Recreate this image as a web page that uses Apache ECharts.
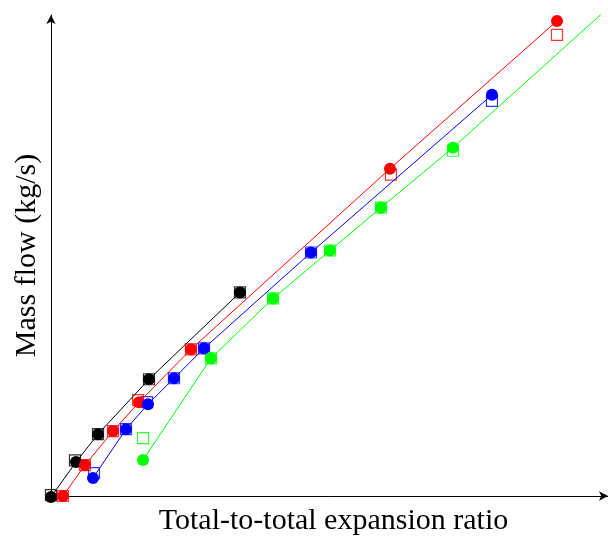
<!DOCTYPE html>
<html>
<head>
<meta charset="utf-8">
<script src="https://cdn.jsdelivr.net/npm/echarts@6/dist/echarts.min.js"></script>
<style>html,body{margin:0;padding:0;background:#fff;}#c{width:608px;height:541px;}</style>
</head>
<body>
<div id="c"></div>
<script>
// Values in normalized chart units (no tick labels in the reference)
var blackLine = [[0,-0.2],[4.49,7.05],[8.44,12.86],[17.59,24.27],[33.93,42.32]];
var blackSq   = [[0,0.2],[4.3,7.4],[8.44,12.86],[17.59,24.27],[33.93,42.32]];
var redLine   = [[2.15,0],[6.10,6.43],[11.13,13.49],[15.80,19.50],[25.13,30.50],[60.86,68.05],[90.84,98.76]];
var redSq     = [[2.15,0],[6.10,6.43],[11.13,13.49],[15.62,19.92],[25.13,30.50],[61.04,66.80],[90.84,95.85]];
var blueLine  = [[7.54,3.73],[13.46,13.90],[17.41,19.09],[22.08,24.48],[27.47,30.71],[46.68,50.62],[79.17,83.40]];
var blueSq    = [[7.72,4.77],[13.46,13.90],[17.24,19.50],[22.08,24.48],[27.47,30.71],[46.68,50.62],[79.17,82.16]];
var greenLine = [[16.52,7.47],[28.73,28.63],[39.86,41.08],[50.09,51.04],[59.25,59.96],[72.17,72.41],[103.4,104.98]];
var greenSq   = [[16.52,12.03],[28.73,28.63],[39.86,41.08],[50.09,51.04],[59.25,59.96],[72.17,71.78]];

var xLabel = 'Total-to-total expansion ratio';
var yLabel = 'Mass flow (kg/s)';

function lineS(data, color, clip){
  return {type:'line', data:data, clip:clip, symbol:'circle', symbolSize:12, showSymbol:true,
    lineStyle:{color:color,width:1}, itemStyle:{color:color,borderWidth:0}, animation:false};
}
function sqS(data, color){
  return {type:'scatter', data:data, clip:false, symbol:'rect', symbolSize:11,
    itemStyle:{color:'rgba(0,0,0,0)', borderColor:color, borderWidth:1.2}, animation:false};
}
var chart = echarts.init(document.getElementById('c'), null, {renderer:'canvas'});
var axisCommon = {
  type:'value', min:0, max:100, splitLine:{show:false}, axisTick:{show:false}, axisLabel:{show:false},
  axisLine:{show:true, onZero:false, symbol:['none','arrow'], symbolSize:[7,9], lineStyle:{color:'#000',width:1}},
  nameLocation:'middle'
};
chart.setOption({
  animation:false,
  grid:{left:51, right:0, top:15, bottom:44},
  xAxis: Object.assign({}, axisCommon, {name:xLabel, nameGap:10,
    nameTextStyle:{fontFamily:'Liberation Serif', fontSize:30, color:'#000', padding:[0,0,0,8]}}),
  yAxis: Object.assign({}, axisCommon, {name:yLabel, nameGap:9,
    nameTextStyle:{fontFamily:'Liberation Serif', fontSize:30, color:'#000'}}),
  series:[
    lineS(blackLine,'#000000',false), sqS(blackSq,'#000000'),
    lineS(redLine,'#ff0000',false), sqS(redSq,'#ff0000'),
    lineS(blueLine,'#0000ff',false), sqS(blueSq,'#0000ff'),
    lineS(greenLine,'#00ff00',true), sqS(greenSq,'#00ff00')
  ]
});
</script>
</body>
</html>
